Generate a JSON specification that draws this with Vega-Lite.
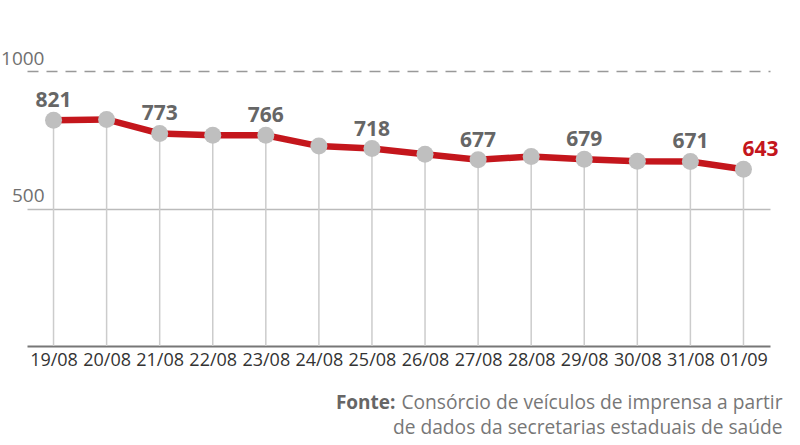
{
  "$schema": "https://vega.github.io/schema/vega-lite/v6.json",
  "width": 743,
  "height": 275,
  "autosize": {"type": "none"},
  "padding": {"left": 27, "top": 71, "right": 30, "bottom": 99},
  "background": "white",
  "config": {"view": {"stroke": null}, "font": "Open Sans"},
  "data": {
    "values": [
      {"data": "19/08", "valor": 821, "rotulo": "821"},
      {"data": "20/08", "valor": 824, "rotulo": ""},
      {"data": "21/08", "valor": 773, "rotulo": "773"},
      {"data": "22/08", "valor": 766, "rotulo": ""},
      {"data": "23/08", "valor": 766, "rotulo": "766"},
      {"data": "24/08", "valor": 727, "rotulo": ""},
      {"data": "25/08", "valor": 718, "rotulo": "718"},
      {"data": "26/08", "valor": 697, "rotulo": ""},
      {"data": "27/08", "valor": 677, "rotulo": "677"},
      {"data": "28/08", "valor": 689, "rotulo": ""},
      {"data": "29/08", "valor": 679, "rotulo": "679"},
      {"data": "30/08", "valor": 672, "rotulo": ""},
      {"data": "31/08", "valor": 671, "rotulo": "671"},
      {"data": "01/09", "valor": 643, "rotulo": "643", "ultimo": true}
    ]
  },
  "encoding": {
    "x": {
      "field": "data",
      "type": "ordinal",
      "sort": null,
      "scale": {"type": "point", "padding": 0.5},
      "axis": {
        "labelAngle": 0,
        "labelFontSize": 18,
        "labelColor": "#333333",
        "labelFont": "Open Sans",
        "ticks": false,
        "tickSize": 0,
        "labelPadding": 5,
        "domainColor": "#777777",
        "domainWidth": 2,
        "grid": false,
        "title": ["Consórcio de veículos de imprensa a partir", "de dados da secretarias estaduais de saúde"],
        "titleFont": "Open Sans",
        "titleFontSize": 19.2,
        "titleFontWeight": "normal",
        "titleColor": "#777777",
        "titleAlign": "right",
        "titleAnchor": null,
        "titleBaseline": "alphabetic",
        "titleX": 755,
        "titleY": 62,
        "titleLineHeight": 25
      }
    },
    "y": {
      "field": "valor",
      "type": "quantitative",
      "scale": {"domain": [0, 1000], "nice": false},
      "axis": {
        "values": [500, 1000],
        "format": "d",
        "grid": true,
        "gridColor": {"condition": {"test": "datum.value == 1000", "value": "#999999"}, "value": "#bbbbbb"},
        "gridDash": {"condition": {"test": "datum.value == 1000", "value": [11, 8]}, "value": []},
        "gridWidth": 1.5,
        "domain": false,
        "ticks": false,
        "tickSize": 0,
        "labelAlign": "right",
        "labelBaseline": "alphabetic",
        "labelPadding": -17,
        "labelOffset": -7,
        "labelFontSize": 19,
        "labelColor": "#707070",
        "labelFont": "Open Sans",
        "title": "Fonte:",
        "titleAngle": 0,
        "titleFont": "Open Sans",
        "titleFontSize": 19,
        "titleFontWeight": "bold",
        "titleColor": "#666666",
        "titleAlign": "right",
        "titleAnchor": null,
        "titleBaseline": "alphabetic",
        "titleX": 368,
        "titleY": 337
      }
    }
  },
  "layer": [
    {
      "mark": {"type": "rule", "color": "#cccccc", "strokeWidth": 1.5},
      "encoding": {"y2": {"datum": 0}}
    },
    {
      "mark": {"type": "line", "color": "#c4161c", "strokeWidth": 6.5}
    },
    {
      "mark": {"type": "point", "shape": "circle", "filled": true, "size": 290, "color": "#bfbfbf", "opacity": 1}
    },
    {
      "transform": [{"filter": "datum.rotulo != '' && !datum.ultimo"}],
      "mark": {"type": "text", "font": "Open Sans", "fontWeight": "bold", "fontSize": 21, "color": "#666666", "baseline": "alphabetic", "dy": -13},
      "encoding": {"text": {"field": "rotulo"}}
    },
    {
      "transform": [{"filter": "datum.ultimo"}],
      "mark": {"type": "text", "font": "Open Sans", "fontWeight": "bold", "fontSize": 21, "color": "#c4161c", "baseline": "alphabetic", "dy": -13, "dx": 17},
      "encoding": {"text": {"field": "rotulo"}}
    }
  ]
}
